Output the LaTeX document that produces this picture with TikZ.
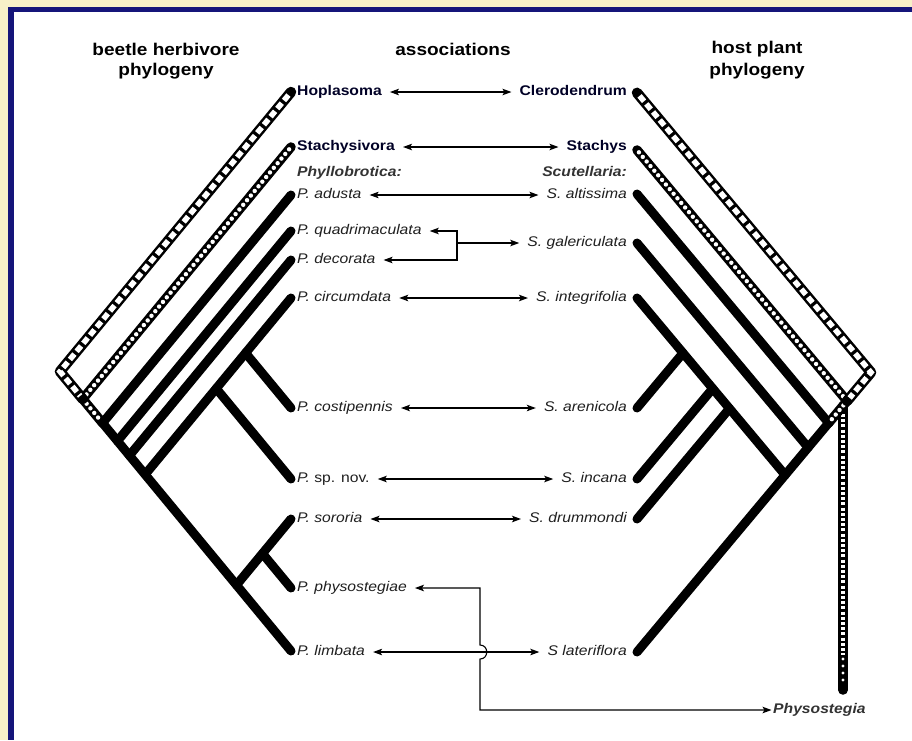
\documentclass[tikz,border=0pt]{standalone}
\usepackage{fontspec}
\setmainfont{Liberation Sans}[FakeStretch=1.12]
\usetikzlibrary{arrows.meta}
\definecolor{bgyellow}{HTML}{F7F0C8}
\definecolor{navyband}{HTML}{15157A}
\begin{document}
\begin{tikzpicture}[x=1pt,y=-1pt,
  br/.style={line width=9pt,line cap=round,line join=round,black},
  rectlad/.style={line width=10.5pt,line cap=round,line join=round,black,
     postaction={draw=white,line width=5.5pt,line cap=butt,line join=miter,dash pattern=on 7pt off 3.5pt,shorten <=4pt,shorten >=4pt}},
  circlad/.style={line width=9.5pt,line cap=round,line join=round,black,
     postaction={draw=white,line width=4.4pt,line cap=round,dash pattern=on 0pt off 6pt,shorten <=3pt,shorten >=3pt}},
  hdr/.style={font=\fontsize{17}{19}\selectfont\bfseries,inner sep=0pt},
  lab/.style={font=\fontsize{14}{16}\selectfont\itshape,inner sep=0pt,text height=10pt,text depth=3pt,text=black!88},
  blab/.style={font=\fontsize{14}{16}\selectfont\bfseries,inner sep=0pt,text height=10pt,text depth=3pt,text=black!85!blue},
  bilab/.style={font=\fontsize{14}{16}\selectfont\bfseries\itshape,inner sep=0pt,text height=10pt,text depth=3pt,text=black!80},
  conn/.style={line width=1.1pt,black},
  assoc/.style={conn,{Stealth[length=9pt,width=6.5pt,inset=2pt]}-{Stealth[length=9pt,width=6.5pt,inset=2pt]},shorten <=8pt,shorten >=8pt}
]
\useasboundingbox (0,0) rectangle (912,740);
% frame
\fill[bgyellow] (0,0) rectangle (912,740);
\fill[navyband] (8,7) rectangle (912,740);
\fill[white] (14,12) rectangle (912,740);

% headers
\node[hdr] (h1) at (166,49) {beetle herbivore};
\node[hdr] (h1b) at (166,71) {phylogeny};
\node[hdr] (h2) at (453,49) {associations};
\node[hdr] (h3) at (757,49) {host plant};
\node[hdr] (h3b) at (757,71) {phylogeny};

% ---------- left tree (beetles) ----------
\coordinate (LtHop) at (291,92);
\coordinate (LtSta) at (291,147);
\coordinate (LtAdu) at (291,195);
\coordinate (LtQua) at (291,231);
\coordinate (LtDec) at (291,260);
\coordinate (LtCir) at (291,298);
\coordinate (LtCos) at (291,408);
\coordinate (LtSpn) at (291,479);
\coordinate (LtSor) at (291,519);
\coordinate (LtPhy) at (291,588);
\coordinate (LtLim) at (291,651);
\coordinate (LjRoot) at (60,371.5);
\coordinate (LjSta) at (82.73,399.0);
\coordinate (LjAdu) at (102.57,423.0);
\coordinate (LjQua) at (117.44,441.0);
\coordinate (LjDec) at (129.43,455.5);
\coordinate (LjCir) at (145.13,474.5);
\coordinate (LjCos) at (245.55,353.0);
\coordinate (LjSpn) at (216.21,388.5);
\coordinate (LjSor) at (236.45,585.0);
\coordinate (LjPhy) at (262.49,553.5);

\draw[br] (LjAdu) -- (LtLim);
\draw[br] (LtAdu) -- (LjAdu);
\draw[br] (LtQua) -- (LjQua);
\draw[br] (LtDec) -- (LjDec);
\draw[br] (LtCir) -- (LjCir);
\draw[br] (LjCos) -- (LtCos);
\draw[br] (LjSpn) -- (LtSpn);
\draw[br] (LtSor) -- (LjSor);
\draw[br] (LjPhy) -- (LtPhy);
\draw[circlad] (LtSta) -- (LjSta) -- (LjAdu);
\draw[rectlad] (LtHop) -- (LjRoot) -- (LjSta);

% ---------- right tree (plants) ----------
\coordinate (RtCle) at (637,92.8);
\coordinate (RtSta) at (637,150);
\coordinate (RtAlt) at (637,194);
\coordinate (RtGal) at (637,243);
\coordinate (RtInt) at (637,298);
\coordinate (RtAre) at (637,408);
\coordinate (RtInc) at (637,479);
\coordinate (RtDru) at (637,519);
\coordinate (RtLat) at (637,652);
\coordinate (RjRoot) at (871,372.4);
\coordinate (RjSta) at (847.05,401.0);
\coordinate (RjAlt) at (828.64,423.0);
\coordinate (RjGal) at (808.14,447.5);
\coordinate (RjInt) at (785.13,475.0);
\coordinate (RjAre) at (683.03,353.0);
\coordinate (RjInc) at (712.73,388.5);
\coordinate (RjDru) at (729.47,408.5);
\coordinate (RvTop) at (843,406);
\coordinate (RvMid) at (843,655);
\coordinate (RvBot) at (843,690);

\draw[br] (RjAlt) -- (RtLat);
\draw[br] (RtAlt) -- (RjAlt);
\draw[br] (RtGal) -- (RjGal);
\draw[br] (RtInt) -- (RjInt);
\draw[br] (RjAre) -- (RtAre);
\draw[br] (RjInc) -- (RtInc);
\draw[br] (RjDru) -- (RtDru);
% vertical Physostegia ladder
\draw[line width=9.5pt,line cap=round,black] (RvTop) -- (RvBot);
\draw[white,line width=4.5pt,dash pattern=on 3pt off 2.2pt] ([yshift=-8pt]RvTop) -- (RvMid);
\draw[white,line width=3.4pt,line cap=round,dash pattern=on 0pt off 7pt] ([yshift=-4pt]RvMid) -- ([yshift=3pt]RvBot);
\draw[circlad] (RtSta) -- (RjSta) -- (RjAlt);
\draw[rectlad] (RtCle) -- (RjRoot) -- (RjSta);

% ---------- labels ----------
\node[blab,anchor=west] (hop) at (297,92) {Hoplasoma};
\node[blab,anchor=west] (stv) at (297,147) {Stachysivora};
\node[bilab,anchor=west] (phyllo) at (297,173) {Phyllobrotica:};
\node[lab,anchor=west] (adu) at (297,195) {P. adusta};
\node[lab,anchor=west] (qua) at (297,231) {P. quadrimaculata};
\node[lab,anchor=west] (dec) at (297,260) {P. decorata};
\node[lab,anchor=west] (cir) at (297,298) {P. circumdata};
\node[lab,anchor=west] (cos) at (297,408) {P. costipennis};
\node[lab,anchor=west] (spn) at (297,479) {P. \upshape sp. nov.};
\node[lab,anchor=west] (sor) at (297,519) {P. sororia};
\node[lab,anchor=west] (phy) at (297,588) {P. physostegiae};
\node[lab,anchor=west] (lim) at (297,652) {P. limbata};

\node[blab,anchor=east] (cle) at (627,92) {Clerodendrum};
\node[blab,anchor=east] (sty) at (627,147) {Stachys};
\node[bilab,anchor=east] (scut) at (627,173) {Scutellaria:};
\node[lab,anchor=east] (alt) at (627,195) {S. altissima};
\node[lab,anchor=east] (gal) at (627,243) {S. galericulata};
\node[lab,anchor=east] (int) at (627,298) {S. integrifolia};
\node[lab,anchor=east] (are) at (627,408) {S. arenicola};
\node[lab,anchor=east] (inc) at (627,479) {S. incana};
\node[lab,anchor=east] (dru) at (627,519) {S. drummondi};
\node[lab,anchor=east] (lat) at (627,652) {S lateriflora};
\node[bilab,anchor=west] (physo) at (773,710) {Physostegia};

% ---------- association connectors ----------
\draw[assoc] (hop.east) -- (cle.west);
\draw[assoc] (stv.east) -- (sty.west);
\draw[assoc] (adu.east) -- (alt.west);
\coordinate (jq) at (457,243);
\draw[conn,{Stealth[length=9pt,width=6.5pt,inset=2pt]}-{Stealth[length=9pt,width=6.5pt,inset=2pt]},shorten <=8pt,shorten >=8pt] (qua.east) -| (jq) |- (dec.east);
\draw[conn,-{Stealth[length=9pt,width=6.5pt,inset=2pt]},shorten >=8pt] (jq) -- (gal.west);
\draw[assoc] (cir.east) -- (int.west);
\draw[assoc] (cos.east) -- (are.west);
\draw[assoc] (spn.east) -- (inc.west);
\draw[assoc] (sor.east) -- (dru.west);
\draw[assoc] (lim.east) -- (lat.west);
\coordinate (pv1) at (480,588);
\coordinate (pv2) at (480,645);
\coordinate (pv3) at (480,659);
\coordinate (pv4) at (480,710);
\draw[conn,{Stealth[length=9pt,width=6.5pt,inset=2pt]}-{Stealth[length=9pt,width=6.5pt,inset=2pt]},shorten <=8pt,shorten >=1.5pt]
  (phy.east) -- (pv1) -- (pv2) .. controls (489,645) and (489,659) .. (pv3) -- (pv4) -- (physo.west);
\end{tikzpicture}
\end{document}
